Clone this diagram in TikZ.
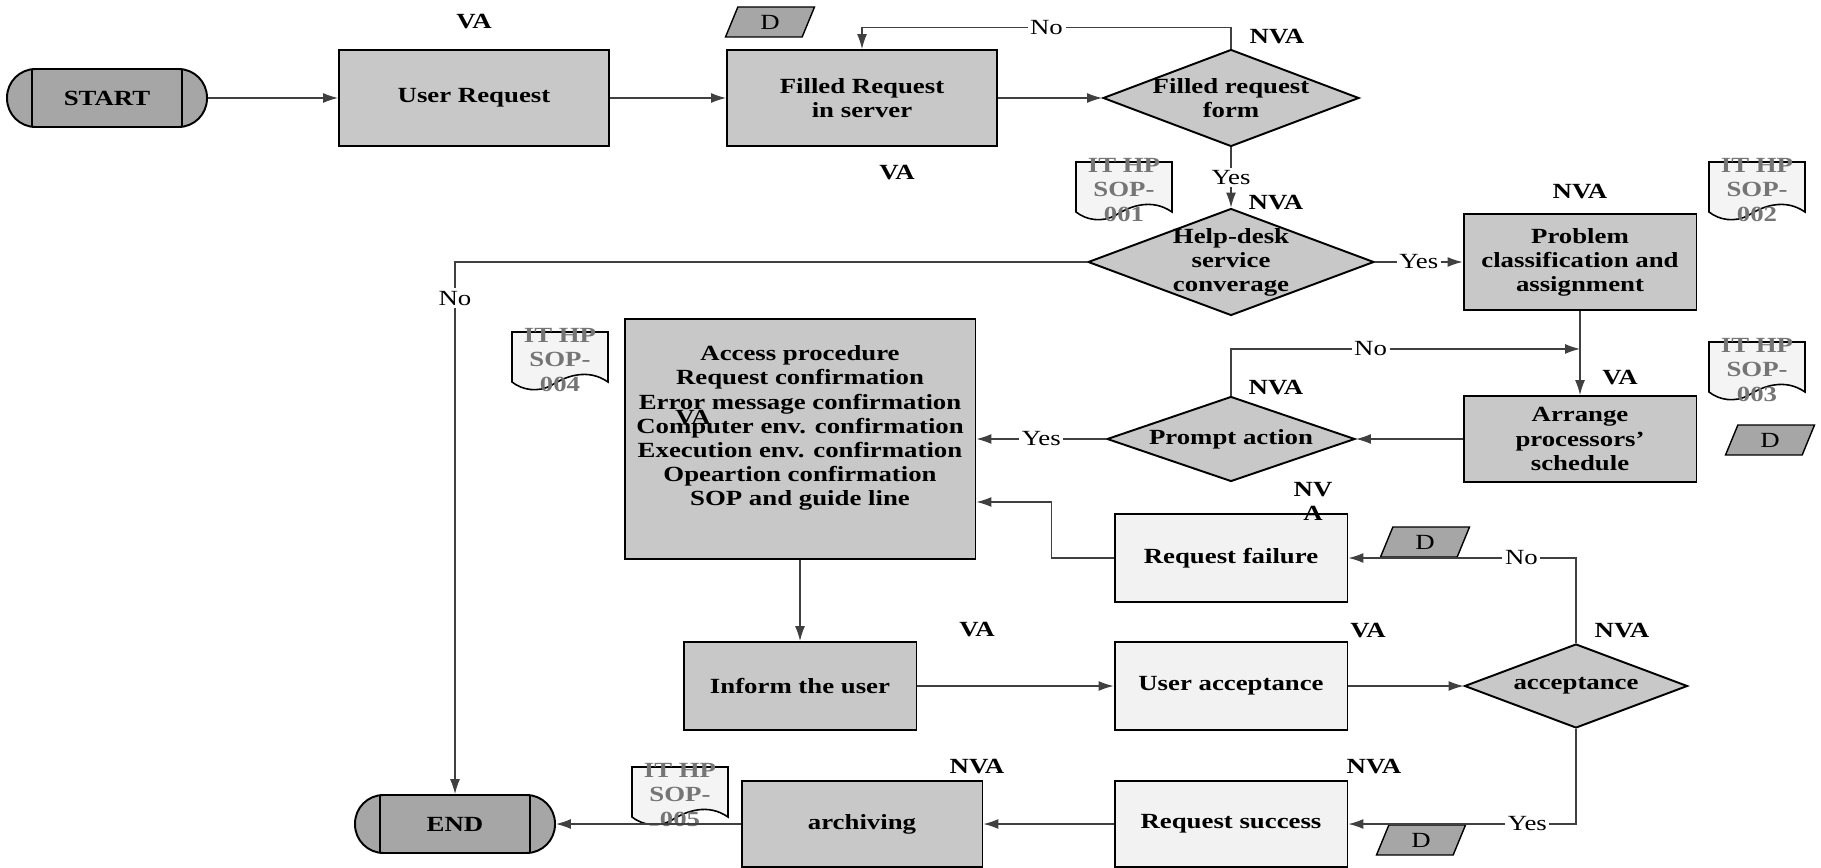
\documentclass[tikz,border=0pt]{standalone}
\usepackage{fontspec}
\setmainfont[FakeStretch=1.24]{Liberation Serif}
\usetikzlibrary{arrows.meta,shapes.geometric}
\definecolor{boxgray}{HTML}{C8C8C8}
\definecolor{palegray}{HTML}{F2F2F2}
\definecolor{termgray}{HTML}{A6A6A6}
\definecolor{docfill}{HTML}{F4F4F4}
\definecolor{docink}{HTML}{757575}
\tikzset{>={Latex[length=0.3cm,width=0.2cm]}}
\tikzset{
	proc/.style={draw, line width=1.1pt, fill=boxgray, font=\bfseries, align=center, inner sep=2pt},
	pale/.style={proc, fill=palegray},
	topbox/.style={minimum width=5.4cm, minimum height=1.92cm},
	rowbox/.style={minimum width=4.66cm, minimum height=1.76cm},
	decision/.style={diamond, draw, line width=1.1pt, fill=boxgray, inner sep=0pt},
	dtext/.style={font=\bfseries, align=center, inner sep=0pt},
	term/.style={draw, line width=1.1pt, fill=termgray, rounded corners=0.57cm,
		minimum width=4cm, minimum height=1.16cm, font=\bfseries,
		path picture={
			\draw[line width=1.1pt] ([xshift=0.5cm]path picture bounding box.north west) -- ([xshift=0.5cm]path picture bounding box.south west);
			\draw[line width=1.1pt] ([xshift=-0.5cm]path picture bounding box.north east) -- ([xshift=-0.5cm]path picture bounding box.south east);
		}},
	dbox/.style={trapezium, trapezium left angle=49, trapezium right angle=131, trapezium stretches body,
		draw, line width=0.8pt, fill=termgray, minimum width=1.78cm, minimum height=0.6cm, inner sep=0pt},
	vatag/.style={font=\bfseries, align=center, inner sep=0pt},
	lbl/.style={fill=white, inner sep=1.5pt},
	conn/.style={line width=0.7pt, draw=black!75},
	docshape/.style={draw, line width=0.9pt, fill=docfill},
	doctxt/.style={text=docink, font=\bfseries, align=center, inner sep=0pt}
}
\newcommand{\sopdoc}[3]{%
	\begin{scope}[shift={#2}]
		\draw[docshape] (-48,-28) -- (48,-28) -- (48,22) .. controls (28,8) and (6,16) .. (-8,25) .. controls (-22,33) and (-38,30) .. (-48,22) -- cycle;
	\end{scope}
	\node[doctxt] (#1) at #2 {IT HP\\SOP-\\#3};
}

\begin{document}
\fontsize{12.3}{13.7}\selectfont
\begin{tikzpicture}[x=0.02cm, y=-0.02cm]
	\useasboundingbox (0,0) rectangle (1821,868);

	\node[term] (start) at (107,98) {START};
	\node[proc, topbox] (userreq) at (474,98) {User Request};
	\node[proc, topbox] (filled) at (862,98) {Filled Request\\in server};
	\node[decision, minimum width=5.12cm, minimum height=1.94cm] (formdia) at (1231,98) {};
	\node[dtext] (formtxt) at (formdia) {Filled request\\form};

	\node[decision, minimum width=5.72cm, minimum height=2.14cm] (helpdesk) at (1231,262) {};
	\node[dtext] (helptxt) at (helpdesk) {Help-desk\\service\\converage};
	\node[proc, rowbox, minimum height=1.92cm] (problem) at (1580,262) {Problem\\classification and\\assignment};

	\node[proc, minimum width=7.02cm, minimum height=4.8cm] (bigbox) at (800,439) {};
	\node[dtext] (bigtxt) at (800,428) {Access procedure\\Request confirmation\\Error message confirmation\\Computer env. confirmation\\Execution env. confirmation\\Opeartion confirmation\\SOP and guide line};
	\node[decision, minimum width=4.96cm, minimum height=1.7cm] (prompt) at (1231,439) {};
	\node[dtext] (prompttxt) at (prompt) {Prompt action};
	\node[proc, rowbox, minimum height=1.72cm] (arrange) at (1580,439) {Arrange\\processors'\\schedule};

	\node[pale, rowbox] (failure) at (1231,558) {Request failure};

	\node[proc, rowbox] (inform) at (800,686) {Inform the user};
	\node[pale, rowbox] (useracc) at (1231,686) {User acceptance};
	\node[decision, minimum width=4.46cm, minimum height=1.68cm] (accept) at (1576,686) {};
	\node[dtext] (accepttxt) at (accept) {acceptance};

	\node[term] (end) at (455,824) {END};
	\node[proc, rowbox, minimum width=4.82cm, minimum height=1.72cm] (archiving) at (862,824) {archiving};
	\node[pale, rowbox, minimum height=1.72cm] (success) at (1231,824) {Request success};

	% documents and data
	\sopdoc{sop1}{(1124,190)}{001}
	\sopdoc{sop2}{(1757,190)}{002}
	\sopdoc{sop3}{(1757,370)}{003}
	\sopdoc{sop4}{(560,360)}{004}
	\sopdoc{sop5}{(680,795)}{005}

	\node[dbox] (d1) at (770,22) {D};
	\node[dbox] (d2) at (1770,440) {D};
	\node[dbox] (d3) at (1425,542) {D};
	\node[dbox] (d4) at (1421,840) {D};

	% value tags
	\node[vatag] (va1) at (474,22) {VA};
	\node[vatag] (va2) at (897,173) {VA};
	\node[vatag] (nva1) at (1277,37) {NVA};
	\node[vatag] (nva2) at (1276,203) {NVA};
	\node[vatag] (nva3) at (1580,192) {NVA};
	\node[vatag] (va3) at (1620,378) {VA};
	\node[vatag] (nva4) at (1276,388) {NVA};
	\node[vatag] (va4) at (693,418) {VA};
	\node[vatag] (nva5) at (1313,501) {NV\\A};
	\node[vatag] (va5) at (977,630) {VA};
	\node[vatag] (va6) at (1368,631) {VA};
	\node[vatag] (nva6) at (1622,631) {NVA};
	\node[vatag] (nva7) at (1374,767) {NVA};
	\node[vatag] (nva8) at (977,767) {NVA};

	\draw[conn,->] (start) -- (userreq);
	\draw[conn,->] (userreq) -- (filled);
	\draw[conn,->] (filled) -- (formdia);
	\draw[conn,->] (formdia.north) -- ++(0,-21) -| node[lbl, pos=0.25] (no1) {No} (filled.north);
	\draw[conn,->] (formdia.south) -- node[lbl] (yes1) {Yes} (helpdesk.north);
	\draw[conn,->] (helpdesk.east) -- node[lbl] (yes2) {Yes} (problem.west);
	\draw[conn,->] (helpdesk.west) -| node[lbl, pos=0.534] (no2) {No} (end.north);
	\draw[conn,->] (problem) -- (arrange);
	\draw[conn,->] (prompt.north) |- node[lbl, pos=0.7] (no3) {No} ([yshift=-0.76cm]problem.south);
	\draw[conn,->] (arrange) -- (prompt);
	\draw[conn,->] (prompt) -- node[lbl] (yes3) {Yes} (bigbox);
	\draw[conn,->] (bigbox) -- (inform);
	\draw[conn,->] (inform) -- (useracc);
	\draw[conn,->] (useracc) -- (accept);
	\draw[conn,->] (accept.north) |- node[lbl, pos=0.62] (no4) {No} (failure.east);
	\draw[conn,->] (accept.south) |- node[lbl, pos=0.607] (yes4) {Yes} (success.east);
	\draw[conn,->] (failure.west) -- ++(-62,0) |- ([yshift=-1.26cm]bigbox.east);
	\draw[conn,->] (success) -- (archiving);
	\draw[conn,->] (archiving) -- (end);
\end{tikzpicture}
\end{document}
